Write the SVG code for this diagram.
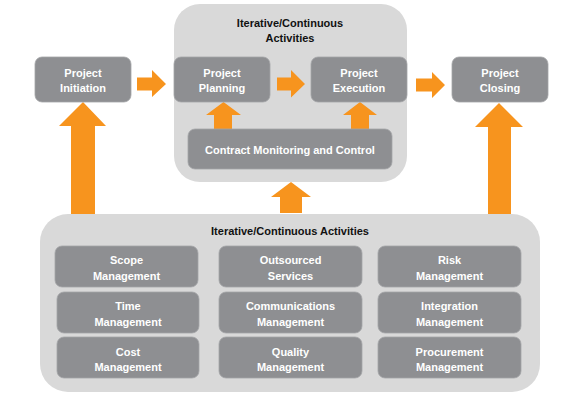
<svg xmlns="http://www.w3.org/2000/svg" width="581" height="402" viewBox="0 0 581 402">
<defs>
<style>
.cont{fill:#d9d9d9;}
.box{fill:#8e8f92;stroke:#a3a4a7;stroke-width:0.8;}
.arr{fill:#f7941e;}
.t{font-family:"Liberation Sans",Arial,sans-serif;font-weight:bold;font-size:11px;fill:#ffffff;text-anchor:middle;}
.h{font-family:"Liberation Sans",Arial,sans-serif;font-weight:bold;font-size:11px;fill:#111111;text-anchor:middle;}
</style>
</defs>
<rect width="581" height="402" fill="#ffffff"/>
<g id="top-container">
<rect class="cont" x="174" y="4" width="233" height="178" rx="26"/>
<text class="h" x="290" y="27">Iterative/Continuous</text>
<text class="h" x="290" y="42">Activities</text>
</g>
<g id="bottom-container">
<rect class="cont" x="40" y="214" width="500" height="178" rx="28"/>
<text class="h" x="290" y="235">Iterative/Continuous Activities</text>
</g>
<g id="connectors">
<polygon class="arr" points="137,77.5 152,77.5 152,70 166,84 152,97 152,90.5 137,90.5"/>
<polygon class="arr" points="277,77.5 291,77.5 291,70 305,84 291,97.5 291,90.5 277,90.5"/>
<polygon class="arr" points="416,78.5 432,78.5 432,72 445,85 432,98 432,91.5 416,91.5"/>
<polygon class="arr" points="83,102 106,126 95,126 95,214 71,214 71,126 59,126"/>
<polygon class="arr" points="499,103 523,127 511,127 511,214 488,214 488,127 475,127"/>
<polygon class="arr" points="291,182 311,197 302,197 302,213 280,213 280,197 271,197"/>
<polygon class="arr" points="223.5,102 241,115 232,115 232,129 214,129 214,115 206,115"/>
<polygon class="arr" points="360,102 377,115 369,115 369,129 351,129 351,115 343,115"/>
</g>
<g id="project-initiation">
<rect class="box" x="35" y="57" width="96" height="45" rx="7"/>
<text class="t" x="83" y="77">Project</text>
<text class="t" x="83" y="92">Initiation</text>
</g>
<g id="project-planning">
<rect class="box" x="174" y="57" width="96" height="45" rx="7"/>
<text class="t" x="222" y="77">Project</text>
<text class="t" x="222" y="92">Planning</text>
</g>
<g id="project-execution">
<rect class="box" x="311" y="57" width="96" height="45" rx="7"/>
<text class="t" x="359" y="77">Project</text>
<text class="t" x="359" y="92">Execution</text>
</g>
<g id="project-closing">
<rect class="box" x="452" y="57" width="96" height="45" rx="7"/>
<text class="t" x="500" y="77">Project</text>
<text class="t" x="500" y="92">Closing</text>
</g>
<g id="contract-monitoring">
<rect class="box" x="188" y="129" width="204" height="40" rx="7"/>
<text class="t" x="290" y="154">Contract Monitoring and Control</text>
</g>
<g id="scope-management">
<rect class="box" x="55" y="246" width="143" height="41" rx="7"/>
<text class="t" x="126.5" y="264">Scope</text>
<text class="t" x="126.5" y="280">Management</text>
</g>
<g id="time-management">
<rect class="box" x="57" y="292" width="142" height="41" rx="7"/>
<text class="t" x="128" y="310">Time</text>
<text class="t" x="128" y="326">Management</text>
</g>
<g id="cost-management">
<rect class="box" x="57" y="337" width="142" height="41" rx="7"/>
<text class="t" x="128" y="356">Cost</text>
<text class="t" x="128" y="371">Management</text>
</g>
<g id="outsourced-services">
<rect class="box" x="219" y="246" width="143" height="41" rx="7"/>
<text class="t" x="290.5" y="264">Outsourced</text>
<text class="t" x="290.5" y="280">Services</text>
</g>
<g id="communications-management">
<rect class="box" x="219" y="292" width="143" height="41" rx="7"/>
<text class="t" x="290.5" y="310">Communications</text>
<text class="t" x="290.5" y="326">Management</text>
</g>
<g id="quality-management">
<rect class="box" x="219" y="337" width="143" height="41" rx="7"/>
<text class="t" x="290.5" y="356">Quality</text>
<text class="t" x="290.5" y="371">Management</text>
</g>
<g id="risk-management">
<rect class="box" x="378" y="246" width="143" height="41" rx="7"/>
<text class="t" x="449.5" y="264">Risk</text>
<text class="t" x="449.5" y="280">Management</text>
</g>
<g id="integration-management">
<rect class="box" x="378" y="292" width="143" height="41" rx="7"/>
<text class="t" x="449.5" y="310">Integration</text>
<text class="t" x="449.5" y="326">Management</text>
</g>
<g id="procurement-management">
<rect class="box" x="378" y="337" width="143" height="41" rx="7"/>
<text class="t" x="449.5" y="356">Procurement</text>
<text class="t" x="449.5" y="371">Management</text>
</g>
</svg>
